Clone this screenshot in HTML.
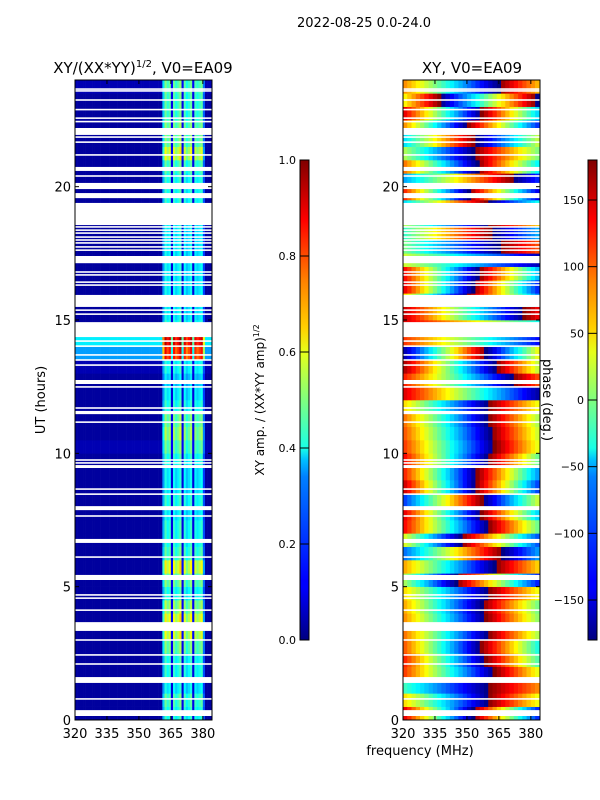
<!DOCTYPE html>
<html><head><meta charset="utf-8"><style>
html,body{margin:0;padding:0;background:#fff;width:600px;height:800px;overflow:hidden}
svg text{font-family:"DejaVu Sans","Liberation Sans",sans-serif;fill:#000}
</style></head><body>
<svg id="fig" width="600" height="800" viewBox="0 0 600 800" xmlns="http://www.w3.org/2000/svg">
<defs>
<linearGradient id="jetV" x1="0" y1="1" x2="0" y2="0">
<stop offset="0" stop-color="#000080"/><stop offset="0.11" stop-color="#0000ff"/><stop offset="0.125" stop-color="#0000ff"/>
<stop offset="0.34" stop-color="#0080ff"/><stop offset="0.375" stop-color="#00bfff"/><stop offset="0.4" stop-color="#19ffe6"/>
<stop offset="0.5" stop-color="#7fff7f"/><stop offset="0.6" stop-color="#e6ff19"/><stop offset="0.65" stop-color="#ffd000"/>
<stop offset="0.75" stop-color="#ff8000"/><stop offset="0.875" stop-color="#ff0000"/><stop offset="1" stop-color="#800000"/>
</linearGradient>
</defs>
<text x="364" y="27" font-size="13" text-anchor="middle">2022-08-25 0.0-24.0</text>
<text x="143" y="73" font-size="15" text-anchor="middle">XY/(XX*YY)<tspan font-size="10" dy="-6">1/2</tspan><tspan dy="6">, V0=EA09</tspan></text>
<text x="472" y="73" font-size="15" text-anchor="middle">XY, V0=EA09</text>
<text transform="translate(45,400) rotate(-90)" font-size="13" text-anchor="middle">UT (hours)</text>
<text x="420" y="755" font-size="13" text-anchor="middle">frequency (MHz)</text>
<text transform="translate(264,400) rotate(-90)" font-size="12" text-anchor="middle">XY amp. / (XX*YY amp)<tspan font-size="8" dy="-5">1/2</tspan></text>
<g id="left"></g>
<g id="right"></g>
<g id="axes"></g>
<text transform="translate(543,400) rotate(90)" font-size="13" text-anchor="middle">phase (deg.)</text>
</svg>
<script>
// ---- data ----
const freqMin = 320, freqMax = 384.3, hourMin = 0, hourMax = 24;
const xTicks = [320, 335, 350, 365, 380];
const yTicks = [0, 5, 10, 15, 20];
const ampTicks = [0.0, 0.2, 0.4, 0.6, 0.8, 1.0];
const phaseTicks = [-150, -100, -50, 0, 50, 100, 150];
// amplitude column profile, 1 MHz bins from 320
const ampColProfile = [0.03,0.03,0.03,0.03,0.03,0.03,0.03,0.03,0.03,0.03,0.03,0.03,0.03,0.03,0.03,0.03,0.03,0.03,0.03,0.03,
 0.03,0.03,0.03,0.03,0.03,0.03,0.03,0.03,0.03,0.03,0.03,0.03,0.03,0.03,0.03,0.03,0.03,0.03,0.03,0.03,0.03,
 0.30,0.44,0.38,0.42,0.10,0.42,0.36,0.40,0.46,0.10,0.41,0.34,0.38,0.43,0.10,0.40,0.36,0.39,0.42,0.20,0.03,0.03,0.03];
// per half-hour row factors and baselines
const ampRowFactor = [1.0,1.1,0.9,1.0,1.0,1.2,1.45,1.5,1.3,1.0,1.2,1.5,1.1,1.0,1.0,0.9,1.0,0.9,0.9,1.0,1.1,1.3,1.2,1.0,
 0.9,0.8,0.9,1.5,1.45,1.0,0.9,0.9,0.9,0.9,0.9,0.9,0.9,0.9,1.0,1.0,1.0,1.1,1.45,1.2,1.2,1.1,1.1,1.1];
const ampRowBase = [0.03,0.03,0.03,0.03,0.03,0.03,0.03,0.03,0.03,0.03,0.03,0.03,0.03,0.03,0.03,0.03,0.03,0.03,0.03,0.03,0.05,0.03,0.03,0.03,
 0.03,0.03,0.05,0.28,0.36,0.03,0.03,0.03,0.03,0.03,0.03,0.03,0.03,0.03,0.03,0.03,0.03,0.03,0.03,0.03,0.03,0.03,0.03,0.05];
// phase: start phase (deg at 320 MHz) and slope (deg/MHz) per half-hour
const phaseStart = [150,60,-20,120,130,110,100,90,80,60,20,80,-100,40,140,150,-120,160,130,140,120,110,100,60,
 150,130,170,-170,120,150,160,60,150,140,30,0,-30,20,-60,130,-80,100,20,-60,90,150,40,90];
const phaseSlope = [-10,-6,-4,-7,-8,-8,-7,-7,-7,-6,-8,-6,6,-8,-8,-9,8,-10,-9,-8,-7,-7,-7,-6,
 -5,-6,-8,9,-4,-3,-6,-8,-10,-9,-3,-4,5,-5,6,-10,5,-8,-6,7,-9,-9,8,-6];
// flagged (blank) time ranges in hours
const gaps = [[0.15,0.37],[0.79,0.79],[1.39,1.61],[2.1,2.1],[2.44,2.44],[3.0,3.0],[3.34,3.67],[4.12,4.12],[4.57,4.57],[4.69,4.69],
 [5.25,5.44],[6.11,6.11],[6.64,6.79],[7.65,7.65],[7.87,8.02],[8.47,8.47],[8.66,8.66],[9.45,9.56],[9.64,9.64],[9.75,9.75],
 [11.17,11.17],[11.47,11.59],[11.7,11.7],[12.49,12.49],[12.6,12.75],[13.31,13.31],[13.5,13.5],[13.69,13.69],[14.02,14.02],[14.21,14.21],
 [14.36,14.92],[15.22,15.22],[15.37,15.37],[15.49,15.94],[16.31,16.31],[16.42,16.42],[16.69,16.69],[16.8,16.8],[17.13,17.4],
 [17.62,17.62],[17.74,17.74],[17.89,17.89],[18.0,18.0],[18.11,18.11],[18.26,18.26],[18.37,18.37],[18.49,18.49],[18.56,19.39],
 [19.57,19.76],[19.91,20.14],[20.4,20.4],[20.59,20.74],[21.19,21.19],[21.67,21.67],[21.86,21.86],[21.94,22.2],[22.44,22.44],
 [22.57,22.57],[22.89,22.89],[23.25,23.25],[23.59,23.59],[23.66,23.66]];

// ---- helpers ----
const NS = "http://www.w3.org/2000/svg";
const panelTop = 80, panelBot = 720, panelW = 137;
function yScale(h){ return panelBot - (h - hourMin) / (hourMax - hourMin) * (panelBot - panelTop); }
function xScale(x0, f){ return x0 + (f - freqMin) / (freqMax - freqMin) * panelW; }
function clamp(v){ return Math.max(0, Math.min(1, v)); }
function jet(v){
  v = clamp(v);
  const r = clamp(1.5 - Math.abs(4*v - 3)), g = clamp(1.5 - Math.abs(4*v - 2)), b = clamp(1.5 - Math.abs(4*v - 1));
  return "rgb(" + Math.round(r*255) + "," + Math.round(g*255) + "," + Math.round(b*255) + ")";
}
function mk(tag, attrs, parent){
  const e = document.createElementNS(NS, tag);
  for (const k in attrs) e.setAttribute(k, attrs[k]);
  parent.appendChild(e); return e;
}
const L = document.getElementById("left"), R = document.getElementById("right"), A = document.getElementById("axes");
const LX = 75, RX = 403;

// amplitude heatmap
for (let r = 0; r < ampRowFactor.length; r++){
  const y0 = yScale(r*0.5 + 0.5), y1 = yScale(r*0.5);
  for (let c = 0; c < ampColProfile.length; c++){
    const f0 = freqMin + c, f1 = Math.min(freqMax, f0 + 1);
    const v = ampRowBase[r] + (ampColProfile[c] - 0.03) * ampRowFactor[r];
    const x0 = xScale(LX, f0), x1 = xScale(LX, f1);
    const cell = mk("rect", {x: x0, y: y0, width: x1 - x0 + 0.3, height: y1 - y0 + 0.3, fill: jet(v)}, L);
    
    
  }
}
// phase heatmap, 2 MHz bins
for (let r = 0; r < phaseStart.length; r++){
  const y0 = yScale(r*0.5 + 0.5), y1 = yScale(r*0.5);
  for (let f0 = freqMin; f0 < freqMax; f0 += 2){
    const f1 = Math.min(freqMax, f0 + 2);
    let p = phaseStart[r] + phaseSlope[r] * (f0 + 1 - freqMin);
    p = ((p + 180) % 360 + 360) % 360 - 180;
    const x0 = xScale(RX, f0), x1 = xScale(RX, f1);
    const cell = mk("rect", {x: x0, y: y0, width: x1 - x0 + 0.3, height: y1 - y0 + 0.3, fill: jet((p + 180) / 360)}, R);
    
    
  }
}
// flagged gaps
[LX, RX].forEach(function(x0){
  gaps.forEach(function(g){
    let yA = yScale(g[1]), yB = yScale(g[0]);
    if (yB - yA < 1.6){ const m = (yA + yB)/2; yA = m - 0.8; yB = m + 0.8; }
    const gr = mk("rect", {x: x0, y: yA, width: panelW, height: yB - yA, fill: "#fff"}, x0 === LX ? L : R);
    
    
  });
});
// axes frames and ticks
[LX, RX].forEach(function(x0){
  const fr = mk("rect", {x: x0, y: panelTop, width: panelW, height: panelBot - panelTop, fill: "none", stroke: "#000", "stroke-width": 1}, A);
  
  
  xTicks.forEach(function(t){
    const x = xScale(x0, t);
    mk("line", {x1: x, x2: x, y1: panelBot, y2: panelBot - 4, stroke: "#000"}, A);
    mk("line", {x1: x, x2: x, y1: panelTop, y2: panelTop + 4, stroke: "#000"}, A);
    const tl = mk("text", {x: x, y: panelBot + 18, "font-size": 13, "text-anchor": "middle"}, A);
    tl.textContent = t;
    
    
  });
  yTicks.forEach(function(t){
    const y = yScale(t);
    mk("line", {x1: x0, x2: x0 + 4, y1: y, y2: y, stroke: "#000"}, A);
    mk("line", {x1: x0 + panelW, x2: x0 + panelW - 4, y1: y, y2: y, stroke: "#000"}, A);
    const tl = mk("text", {x: x0 - 4, y: y + 5, "font-size": 13, "text-anchor": "end"}, A);
    tl.textContent = t;
    
    
  });
});
// colorbars
const cbTop = 160, cbBot = 640;
function cbar(x, ticks, lo, hi, fmt, name){
  const b = mk("rect", {x: x, y: cbTop, width: 9, height: cbBot - cbTop, fill: "url(#jetV)", stroke: "#000", "stroke-width": 1}, A);
  
  
  ticks.forEach(function(t){
    const y = cbBot - (t - lo) / (hi - lo) * (cbBot - cbTop);
    mk("line", {x1: x, x2: x + 9, y1: y, y2: y, stroke: "#000"}, A);
    const tl = mk("text", {x: x - 4, y: y + 4, "font-size": 11, "text-anchor": "end"}, A);
    tl.textContent = fmt(t);
    
    
  });
}
cbar(300, ampTicks, 0, 1, function(t){ return t.toFixed(1); }, 'amp-colorbar');
cbar(588, phaseTicks, -180, 180, function(t){ return t < 0 ? "\u2212" + (-t) : String(t); }, 'phase-colorbar');
</script>
</body></html>
